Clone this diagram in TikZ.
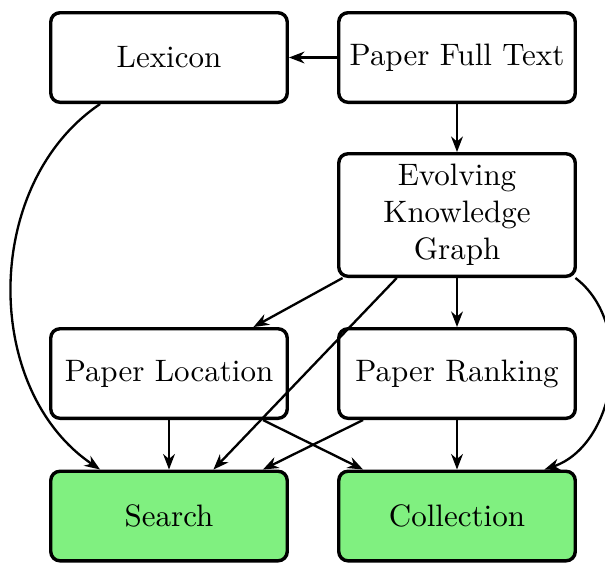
\documentclass[tikz,border=0pt]{standalone}
\usetikzlibrary{arrows.meta}
\definecolor{outgreen}{HTML}{80F080}
\begin{document}
\begin{tikzpicture}[x=0.3226pt, y=-0.3226pt,
  block/.style={draw, line width=1.1pt, rounded corners=3pt, fill=white,
    minimum width=76.3pt, minimum height=28.9pt, align=center, inner sep=3.33pt},
  result/.style={block, fill=outgreen},
  link/.style={line width=0.75pt, -{Stealth[length=5pt, width=3.8pt, inset=1.6pt]}}]
  \useasboundingbox (0,0) rectangle (605,563);

  % boxes
  \node[block]  (lex)  at (169,57.5) {Lexicon};
  \node[block]  (pft)  at (457,57.5) {Paper Full Text};
  \node[block]  (ekg)  at (457,215)  {Evolving\\Knowledge\\Graph};
  \node[block]  (loc)  at (169,373.5) {Paper Location};
  \node[block]  (rank) at (457,373.5) {Paper Ranking};
  \node[result] (srch) at (169,516)  {Search};
  \node[result] (coll) at (457,516)  {Collection};

  % flows
  \draw[link] (pft) -- (lex);
  \draw[link] (pft) -- (ekg);
  \draw[link] (ekg) -- (loc);
  \draw[link] (ekg) -- (srch);
  \draw[link] (ekg) -- (rank);
  \draw[link] (ekg) to[bend left=62] (coll);
  \draw[link] (lex) to[bend right=56] (srch);
  \draw[link] (loc) -- (srch);
  \draw[link] (loc) -- (coll);
  \draw[link] (rank) -- (srch);
  \draw[link] (rank) -- (coll);
\end{tikzpicture}
\end{document}
